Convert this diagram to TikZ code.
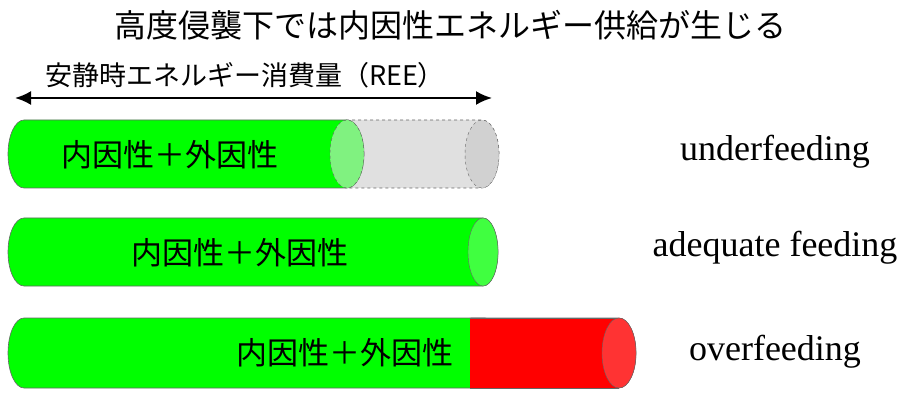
\documentclass[tikz,border=0pt]{standalone}
\usepackage{fontspec}
\setmainfont{Liberation Serif}
\newfontfamily\jp{Noto Sans CJK JP}
\usetikzlibrary{arrows.meta}
\begin{document}
\begin{tikzpicture}[x=1pt,y=1pt,
  lab/.style={font=\fontsize{36}{36}\selectfont, anchor=center},
  jt/.style={font=\jp\fontsize{31}{31}\selectfont, anchor=center},
  body/.style={draw=black!60, line width=0.6pt}]
\useasboundingbox (0,0) rectangle (915,402);
% cylinder: left x, cap centre x, top Y, bottom Y, style, cap rx
\newcommand{\mycyl}[6]{%
  \path[body,#5] (#1+16,#3) -- (#2,#3) arc[start angle=90,end angle=-90,x radius=#6,y radius={(#3-#4)/2}] -- (#1+16,#4) arc[start angle=270,end angle=90,x radius=16,y radius={(#3-#4)/2}] -- cycle;}
\node[font=\jp\fontsize{32}{32}\selectfont] (t) at (450,377) {高度侵襲下では内因性エネルギー供給が生じる};
\node[font=\jp\fontsize{27}{27}\selectfont] (r) at (245,327) {安静時エネルギー消費量（REE）};
\coordinate (a1) at (15,304); \coordinate (a2) at (492,304);
\draw[{Latex[length=16pt,width=14pt]}-{Latex[length=16pt,width=14pt]}, line width=2.2pt] (a1) -- (a2);
% row 1
\mycyl{330}{482}{282}{214}{fill=black!12, dashed}{17}
\mycyl{8}{347}{282}{214}{fill=green}{17}
\path[fill=green!50!white!90!gray, draw=black!60, dashed] (347,248) ellipse [x radius=17, y radius=34];
\path[fill=black!18, draw=black!60, dashed] (482,248) ellipse [x radius=17, y radius=34];
\node[jt] (n1) at (170,247) {内因性＋外因性};
\node[lab] (u) at (775,250) {underfeeding};
% row 2
\mycyl{8}{483}{184}{116}{fill=green}{15}
\path[fill=green!75!white, draw=black!60] (483,150) ellipse [x radius=15, y radius=34];
\node[jt] (n2) at (240,149) {内因性＋外因性};
\node[lab] (ad) at (775,154) {adequate feeding};
% row 3
\mycyl{455}{619}{84}{14}{fill=red}{17}
\mycyl{8}{485}{84}{14}{fill=green}{17}
\path[fill=red] (470,83.7) rectangle (619,14.3);
\path[draw=black!60] (470,84) -- (619,84) (470,14) -- (619,14);
\path[fill=red!80!white, draw=black!60] (619,49) ellipse [x radius=17, y radius=35];
\node[jt] (n3) at (345,49) {内因性＋外因性};
\node[lab] (o) at (775,50) {overfeeding};
\end{tikzpicture}
\end{document}
